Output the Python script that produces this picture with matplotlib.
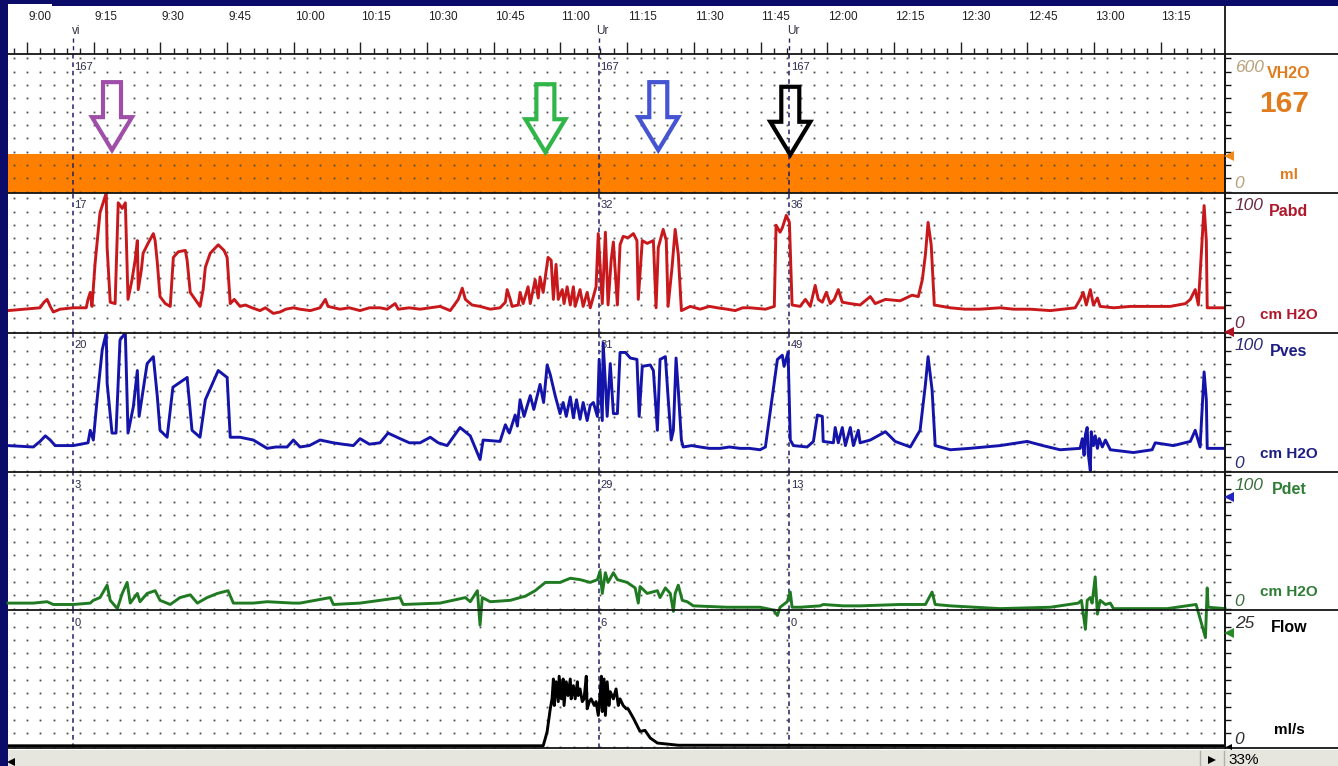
import numpy as np
import matplotlib.pyplot as plt
from matplotlib import transforms
from matplotlib.patches import Polygon, Rectangle

plt.rcParams['font.family'] = ['Liberation Sans', 'DejaVu Sans']

# time axis: minutes after 9:00
T0, T1 = -4.3, 269.5
major_t = list(range(0, 256, 15))
major_lab = ['9:00', '9:15', '9:30', '9:45', '10:00', '10:15', '10:30', '10:45', '11:00',
             '11:15', '11:30', '11:45', '12:00', '12:15', '12:30', '12:45', '13:00', '13:15']
minor_t = list(range(-3, 270, 3))

# event markers and the values printed next to them
marker_t = [10.3, 128.7, 171.5]
marker_name = ['vi', 'Ur', 'Ur']
marker_vals = {
    'VH2O': [167, 167, 167],
    'Pabd': [17, 32, 36],
    'Pves': [20, 31, 49],
    'Pdet': [3, 29, 13],
    'Flow': [0, 6, 0],
}

# channels
ch_names = ['VH2O', 'Pabd', 'Pves', 'Pdet', 'Flow']
ch_units = ['ml', 'cm H2O', 'cm H2O', 'cm H2O', 'ml/s']
ch_top = ['600', '100', '100', '100', '25']
ch_max = [600, 100, 100, 100, 25]
vh2o_now = 167

vh2o = [(T0, 167), (T1, 167)]

pabd = [(-4.3, 16), (2.9, 18), (3.8, 22), (4.5, 24), (5.2, 19), (5.9, 15), (7.4, 17), (10.4, 18),
        (13.3, 18), (13.7, 24), (14.2, 29), (14.6, 19), (15.3, 50), (16.4, 86), (17.3, 95), (17.8, 100),
        (18.0, 61), (18.7, 22), (19.8, 21), (20.5, 93), (21.4, 89), (22.1, 93), (22.7, 24), (23.6, 38),
        (24.3, 52), (24.8, 66), (25.0, 31), (25.7, 45), (26.1, 57), (27.2, 64), (28.4, 71), (28.8, 66),
        (29.3, 50), (29.9, 26), (31.1, 21), (32.2, 19), (32.9, 54), (34.0, 58), (35.6, 59), (36.0, 52),
        (36.7, 29), (37.8, 24), (38.9, 19), (39.6, 31), (40.1, 47), (41.2, 57), (43.0, 63), (44.3, 59),
        (45.0, 54), (45.7, 21), (46.6, 24), (47.9, 19), (49.1, 20), (50.6, 18), (52.4, 16), (53.6, 18),
        (55.4, 14), (56.9, 15), (58.2, 17), (59.9, 18), (61.4, 17), (63.7, 16), (65.9, 18), (67.1, 24),
        (67.7, 19), (70.4, 17), (72.5, 18), (74.9, 16), (77.0, 18), (79.4, 18), (81.0, 17), (82.8, 21),
        (83.5, 17), (86.0, 18), (88.4, 17), (90.6, 18), (92.9, 19), (95.2, 16), (97.0, 24), (97.9, 32),
        (98.6, 24), (100.1, 20), (101.9, 19), (104.2, 17), (106.4, 18), (107.6, 22), (108.0, 31),
        (108.7, 24), (109.1, 19), (110.5, 20), (110.9, 29), (111.6, 21), (112.7, 33), (113.2, 21), (114.3, 38),
        (115.0, 25), (115.4, 40), (116.1, 29), (116.8, 45), (117.2, 54), (117.9, 52), (118.4, 24), (119.0, 49),
        (119.5, 24), (120.4, 31), (120.8, 21), (121.5, 33), (122.2, 20), (122.9, 33), (123.3, 19), (124.4, 31),
        (125.1, 19), (126.0, 29), (126.7, 18), (128.0, 33), (128.5, 71), (129.4, 21), (130.1, 72), (130.7, 20),
        (131.4, 52), (131.9, 65), (132.8, 20), (133.4, 63), (134.1, 69), (135.2, 68), (136.4, 71), (137.2, 66),
        (137.5, 24), (138.4, 66), (139.5, 64), (140.2, 65), (140.9, 66), (141.5, 18), (142.0, 61), (143.1, 74),
        (143.8, 66), (144.2, 19), (145.1, 47), (145.8, 74), (146.5, 56), (147.2, 16), (149.2, 19), (151.4, 17),
        (153.5, 19), (155.3, 18), (157.5, 17), (159.3, 16), (161.0, 18), (162.7, 18), (166.1, 17), (168.1, 19),
        (168.5, 77), (169.4, 72), (169.9, 75),
        (170.8, 84), (171.5, 79), (172.1, 20), (173.9, 19), (175.1, 24), (176.2, 19), (177.3, 34), (178.0, 24),
        (178.9, 22), (179.8, 29), (180.7, 21), (181.6, 24), (182.5, 31), (183.4, 22), (185.2, 21), (187.4, 20),
        (189.7, 26), (190.8, 21), (193.1, 24), (196.4, 23), (199.1, 27), (200.5, 26), (201.4, 38), (202.1, 56),
        (202.7, 79), (203.4, 63), (204.1, 20), (207.7, 18), (211.0, 17), (214.4, 17), (218.9, 18), (222.0, 17),
        (225.7, 17), (230.2, 16),
        (235.8, 18), (236.9, 24), (237.6, 29), (238.3, 20), (239.2, 31), (239.9, 20), (240.8, 25), (241.4, 19),
        (244.5, 18), (248.2, 19), (252.7, 19), (257.2, 19), (260.6, 21), (261.7, 24), (262.8, 31), (263.5, 20),
        (264.8, 91), (265.3, 66), (265.5, 18), (269.5, 18)]

pves = [(-4.3, 19), (1.4, 18), (2.9, 22), (4.1, 26), (5.2, 23), (6.3, 19), (10.4, 19), (13.7, 21),
        (14.2, 30), (14.9, 23), (15.8, 54), (16.9, 88), (17.8, 100), (18.0, 64), (19.1, 28), (20.0, 28),
        (20.9, 95), (22.1, 100), (22.7, 28), (23.9, 47), (24.8, 73), (25.2, 40), (27.0, 78), (28.4, 83),
        (29.3, 54), (29.9, 30), (31.5, 25), (32.8, 61), (36.0, 68), (37.1, 30), (38.9, 25), (40.1, 52),
        (43.0, 73), (45.0, 68), (45.7, 25), (47.9, 25), (50.9, 23), (54.0, 17), (56.0, 18), (58.5, 18),
        (59.9, 23), (61.4, 18), (63.5, 19), (65.9, 23), (68.9, 21), (71.0, 20), (73.4, 19), (74.9, 24),
        (77.0, 20), (79.4, 21), (81.2, 28), (83.9, 24), (86.0, 21), (88.4, 21), (90.7, 25), (92.5, 21),
        (94.5, 19), (97.4, 32), (99.7, 26), (101.9, 9), (102.6, 23), (106.4, 22),
        (107.6, 34), (108.5, 28), (109.8, 41), (110.3, 33), (110.9, 52), (111.8, 40), (113.2, 55), (114.0, 45),
        (115.4, 63), (116.2, 50), (117.0, 77), (117.7, 70), (118.8, 55), (119.9, 42), (120.6, 50), (121.3, 40),
        (122.2, 54), (122.9, 39), (123.6, 52), (124.4, 38), (125.1, 50), (126.0, 37), (126.7, 48), (127.4, 50),
        (128.3, 40), (128.7, 81), (129.4, 37), (129.6, 93), (130.5, 40), (131.2, 78), (131.9, 42), (132.8, 42),
        (133.4, 86), (134.6, 86), (135.7, 82), (137.2, 81), (137.7, 40), (138.4, 76), (140.2, 77), (140.9, 73),
        (141.8, 30), (142.4, 81), (143.6, 83), (144.2, 54), (144.9, 23), (145.4, 30), (146.0, 82), (146.5, 59),
        (147.2, 23), (147.6, 18), (149.5, 19), (151.4, 18), (153.5, 17), (155.9, 17), (158.0, 18), (160.4, 17),
        (162.5, 17), (164.9, 16), (166.1, 18), (168.8, 81),
        (169.9, 84), (170.3, 76), (171.2, 86), (171.7, 23), (172.4, 19), (175.5, 18), (176.9, 22), (177.8, 41),
        (178.9, 40), (179.1, 22), (181.4, 21), (181.8, 32), (182.5, 21), (183.4, 32), (184.1, 19), (185.2, 32),
        (185.9, 19), (187.0, 30), (187.4, 21), (189.7, 23), (193.1, 29), (195.3, 22), (198.7, 18), (200.9, 30),
        (202.1, 63), (202.7, 83), (203.6, 59), (204.3, 19), (207.7, 16), (212.0, 17), (215.5, 18), (218.9, 19),
        (225.0, 22), (228.5, 19), (232.4, 16),
        (236.9, 17), (237.4, 24), (237.8, 12), (238.1, 27), (238.5, 32), (238.7, 14), (239.2, 1), (239.4, 29),
        (239.9, 19), (240.3, 26), (240.8, 17), (241.2, 24), (241.9, 18), (242.6, 23), (243.7, 16), (248.9, 14),
        (253.1, 16), (253.8, 21), (257.9, 19), (261.7, 22), (262.8, 30), (263.9, 18), (264.8, 72), (265.3, 52),
        (265.5, 17), (269.5, 17)]

pdet = [(-4.3, 5), (1.4, 5), (4.5, 6), (5.9, 4), (10.4, 4), (14.2, 5), (14.9, 7), (16.4, 9),
        (18.0, 18), (18.7, 7), (20.3, 1), (21.4, 12), (22.5, 20), (23.2, 5), (24.8, 12), (25.4, 6),
        (27.0, 12), (28.8, 14), (29.9, 7), (32.2, 4), (34.4, 9), (36.7, 11), (38.3, 5), (40.5, 9),
        (42.8, 12), (45.2, 14), (46.4, 5), (50.9, 5), (54.0, 6), (59.9, 5), (61.4, 5), (68.2, 9),
        (68.9, 4), (74.9, 5), (83.9, 9), (84.6, 4), (92.9, 5), (98.6, 9), (99.7, 6), (101.3, 14),
        (101.9, -11), (102.4, 9), (104.2, 6), (108.7, 7), (110.9, 9), (112.1, 10), (114.3, 14), (116.6, 20),
        (119.9, 20), (122.2, 23), (124.4, 22), (126.7, 20), (128.3, 22), (128.9, 28), (129.4, 12), (130.1, 27),
        (130.7, 20), (131.9, 27), (132.8, 22), (135.0, 20), (136.8, 16), (137.5, 5), (137.9, 17), (139.5, 12),
        (141.8, 14), (142.4, 9), (143.6, 16), (144.7, 12), (145.4, -1), (145.8, 12), (146.5, 18), (147.4, 7),
        (148.5, 6), (149.9, 3), (157.5, 2), (164.9, 2), (167.9, 0), (168.8, -4), (169.4, 2), (171.0, 6),
        (171.7, 13), (172.1, 2), (173.9, 2), (178.4, 3), (179.1, 4), (183.6, 3), (187.4, 3), (196.4, 4),
        (202.1, 4), (203.6, 13), (204.3, 4), (207.7, 3), (218.9, 1), (230.2, 2), (236.5, 5), (237.2, 7),
        (238.1, -14), (238.5, 7), (239.2, 9), (239.6, 5), (240.3, 24), (240.8, -3), (241.4, 7), (242.6, 4),
        (243.7, 5), (244.4, 1), (248.9, 1), (256.5, 1), (263.0, 4), (265.1, -20), (265.5, 16), (265.7, 2),
        (269.5, 1)]

flow = [(-4.3, 0.4), (92.9, 0.4), (116.1, 0.4), (116.6, 1.8), (117.0, 3.0), (117.7, 7.1), (118.1, 8.9),
        (118.4, 12.5), (118.6, 7.7), (119.0, 12.0), (119.5, 8.4), (119.7, 13.0), (120.2, 8.9), (120.6, 12.5),
        (120.8, 7.7), (121.3, 12.0), (121.7, 9.5), (122.2, 12.5), (122.4, 8.9), (122.9, 11.3), (123.3, 8.9),
        (123.8, 12.0), (124.0, 9.5), (124.4, 10.7), (124.9, 8.4), (125.3, 8.9), (125.8, 13.0), (126.0, 7.1),
        (126.5, 8.4), (126.9, 8.9), (127.6, 7.7), (128.0, 8.4), (128.5, 5.9), (128.9, 9.5), (129.2, 13.0),
        (129.4, 6.6), (129.8, 12.5), (130.1, 5.9), (130.5, 12.0), (130.9, 7.7), (131.2, 10.2), (131.9, 8.9),
        (132.5, 10.7), (133.0, 7.7), (133.4, 8.9), (134.1, 7.7), (134.8, 7.1), (135.2, 7.1), (136.4, 5.4),
        (137.9, 3.0), (139.0, 3.2), (140.2, 1.8), (141.8, 0.9), (146.5, 0.5), (269.5, 0.4)]

# annotation arrows (time, tip volume, colour)
arrow_t = [19.1, 116.6, 142.0, 171.7]
arrow_tip = [185, 176, 185, 165]
arrow_col = ['#a04fa8', '#2fb548', '#4454d2', '#000000']

# ---------------------------------------------------------------- layout
W, H = 1338, 766
X0, X1 = 8, 1225
NAVY = '#0b0b6a'
rows = [('VH2O', 54, 193), ('Pabd', 193, 333), ('Pves', 333, 472), ('Pdet', 472, 610), ('Flow', 610, 748)]
series = {'VH2O': vh2o, 'Pabd': pabd, 'Pves': pves, 'Pdet': pdet, 'Flow': flow}
line_col = {'VH2O': '#ff8000', 'Pabd': '#c8181b', 'Pves': '#1414aa', 'Pdet': '#1f7a22', 'Flow': '#000000'}
name_col = ['#e07c1e', '#b0182c', '#1d1d86', '#2e7d34', '#000000']
num_col = ['#b9a07a', '#6a2a44', '#2a2a78', '#3c6e3c', '#303030']
tri_col = ['#f08a1a', '#b01020', '#2323c0', '#2a8a2a', '#000000']
tri_y = [156, 332, 497, 633, 747]

fig = plt.figure(figsize=(W / 100, H / 100), dpi=100)
fig.patch.set_facecolor(NAVY)


def px_axes(x0, y0, x1, y1, z=1):
    return fig.add_axes([x0 / W, 1 - y1 / H, (x1 - x0) / W, (y1 - y0) / H], zorder=z)


bg = fig.add_axes([0, 0, 1, 1], zorder=0)
bg.set_xlim(0, W)
bg.set_ylim(H, 0)
bg.axis('off')
bg.add_patch(Rectangle((X0, 6), W - X0, 744, fc='white', ec='none'))
bg.add_patch(Rectangle((X0, 4), 44, 2, fc='white', ec='none'))
bg.add_patch(Rectangle((X0, 750), W - X0, 16, fc='#e6e6de', ec='none'))

# header with time ticks
hdr = px_axes(X0, 6, X1, 54, z=2)
hdr.set_xlim(T0, T1)
hdr.set_ylim(54, 6)
hdr.axis('off')
hdr.vlines(major_t, 42, 54, color='#202020', lw=1)
hdr.vlines([t for t in minor_t if t not in major_t], 48, 54, color='#202020', lw=1)
for t, lab in zip(major_t, major_lab):
    hdr.text(t + 0.2, 17, lab, ha='left', va='center', fontsize=8.5, color='#202020')
for t, nm in zip(marker_t, marker_name):
    hdr.text(t + 0.8, 31, nm, ha='center', va='center', fontsize=8.5, color='#303040')
    hdr.vlines(t, 38, 54, color='#1f1f66', lw=1, linestyles=(0, (3, 2.5)))

axes = {}
for i, (name, y0, y1) in enumerate(rows):
    h = y1 - y0
    ax = px_axes(X0, y0, X1, y1, z=2)
    ax.patch.set_alpha(0)
    ax.set_xlim(T0, T1)
    ax.set_ylim(0, ch_max[i])
    for s in ['top', 'bottom', 'left']:
        ax.spines[s].set_visible(False)
    ax.spines['right'].set_linewidth(1.3)
    ax.spines['right'].set_color('#151515')
    grid_rows = [ch_max[i] * (1.5 + 13.33 * k) / h for k in range(int(h / 13.33) + 1)]
    ax.set_xticks([])
    ax.set_yticks(grid_rows)
    ax.yaxis.tick_right()
    ax.tick_params(axis='y', direction='out', length=4, width=1, color='#151515', labelright=False)
    tt, rr = np.meshgrid(minor_t, grid_rows)
    ax.plot(tt.ravel(), rr.ravel(), ls='none', marker='s', ms=1.3, mew=0, color='#4a4a4a', zorder=2)
    t, v = zip(*series[name])
    if name == 'VH2O':
        ax.fill_between(t, 0, v, color=line_col[name], lw=0, zorder=1)
    else:
        ax.plot(t, v, color=line_col[name], lw=2.1, zorder=4, clip_on=(name != 'Pdet'),
                solid_joinstyle='round')
    trans = transforms.blended_transform_factory(ax.transData, ax.transAxes)
    for mt, val in zip(marker_t, marker_vals[name]):
        ax.axvline(mt, color='#1f1f66', lw=1.1, ls=(0, (3, 2.5)), zorder=3)
        ax.text(mt + 0.3, 1 - 12.5 / h, str(val), transform=trans, ha='left', va='center',
                fontsize=8, color='#2b2b4a', zorder=5)
    axes[name] = ax

# hollow arrows on the volume strip
av = axes['VH2O']
mpx_t = 0.225
mpx_v = 600 / 139
shape = [(-9, 0), (9, 0), (9, 35), (20, 35), (0, 68), (-20, 35), (-9, 35)]
for t, tip, c in zip(arrow_t, arrow_tip, arrow_col):
    top = tip + 68 * mpx_v
    verts = [(t + dx * mpx_t, top - dy * mpx_v) for dx, dy in shape]
    av.add_patch(Polygon(verts, closed=True, fill=False, ec=c, lw=3, joinstyle='miter',
                         zorder=6, clip_on=False))

# overlay: frame lines and right-hand channel labels
ov = fig.add_axes([0, 0, 1, 1], zorder=5)
ov.set_xlim(0, W)
ov.set_ylim(H, 0)
ov.axis('off')
ov.patch.set_alpha(0)
for y in [54, 193, 333, 472, 610, 748]:
    ov.plot([X0, W], [y, y], color='#151515', lw=1.3)
ov.plot([X1, X1], [6, 748], color='#151515', lw=1.3)

for i, (name, y0, y1) in enumerate(rows):
    ov.text(1235, y0 + 13, ch_top[i], ha='left', va='center', fontsize=12.5, style='italic',
            color=num_col[i])
    ov.text(1289, y0 + (20 if i == 0 else 18), name, ha='center', va='center', fontsize=11.5,
            fontweight='bold', color=name_col[i])
    ov.text(1289, y1 - 18, ch_units[i], ha='center', va='center', fontsize=11,
            fontweight='bold', color=name_col[i])
    ov.text(1234, y1 - 9, '0', ha='left', va='center', fontsize=12.5, style='italic',
            color=num_col[i])
    ov.plot(1229, tri_y[i], marker='<', ms=7 if i < 4 else 5, color=tri_col[i], mew=0)
ov.text(1284, 104, str(vh2o_now), ha='center', va='center', fontsize=21.5, fontweight='bold',
        color=name_col[0])

# status bar
ov.plot([1200, 1200], [751, 766], color='#b0b0a8', lw=1)
ov.plot([1224, 1224], [751, 766], color='#b0b0a8', lw=1)
ov.plot(1212, 760, marker='>', ms=6, color='black', mew=0)
ov.plot(11, 762, marker='<', ms=6, color='black', mew=0)
ov.text(1228, 753, '33%', ha='left', va='top', fontsize=11, color='black')

fig.savefig('out.png', dpi=100, facecolor=fig.get_facecolor())
